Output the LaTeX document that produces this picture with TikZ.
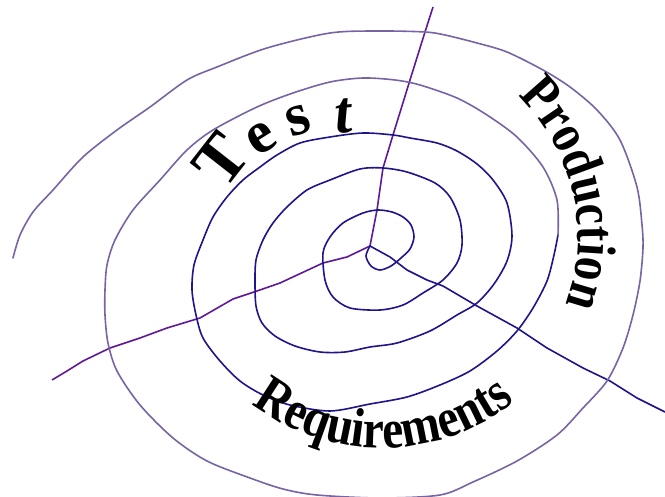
\documentclass[tikz,border=0pt]{standalone}
\usepackage{fontspec}
\setmainfont{Liberation Serif}
\newfontfamily\arcfam{Liberation Serif}[FakeStretch=0.86]
\usetikzlibrary{decorations.text,calc}
\definecolor{spiIn}{RGB}{30,20,140}
\definecolor{spiOut}{RGB}{120,100,165}
\definecolor{rayCol}{RGB}{95,25,150}
\newcommand{\arcfont}{\arcfam\bfseries\fontsize{55}{55}\selectfont}
\newcommand{\testfont}{\bfseries\fontsize{60}{60}\selectfont}
\begin{document}
\begin{tikzpicture}[x=1pt,y=-1pt,
  spiral/.style={line width=1.6pt, line join=round, line cap=round},
  ray/.style={line width=1.6pt, draw=rayCol, line join=round},
  testletter/.style={inner sep=0pt, font=\testfont},
]
\fill[white] (0,0) rectangle (665,497);
\useasboundingbox (0,0) rectangle (665,497);
\coordinate (ctr) at (370,246);

% radial lines
\draw[ray] (ctr) -- (377,210) -- (383,168) -- (393,135) -- (410,80) -- (425,32) -- (433,7);
\draw[ray] (ctr) -- (347,257) -- (323,263) -- (280,283) -- (257,291) -- (233,299) -- (200,318) -- (167,328) -- (140,338) -- (110,348) -- (83,361) -- (67,371) -- (52,380);
\draw[ray, draw=spiIn] (ctr) -- (390,257) -- (407,270) -- (427,280) -- (443,286) -- (477,306) -- (517,328) -- (547,348) -- (583,368) -- (610,381) -- (637,398) -- (665,412);

% spiral, inner part
\draw[spiral, spiIn] plot[smooth, tension=0.5] coordinates {(370,246) (366,256) (371,266) (380,270) (391,266) (401,258) (410,249) (414,237) (411,225) (403,217) (392,212) (378,210) (363,213) (343,223) (330,237) (323,253) (325,280) (333,297) (350,308) (380,310) (403,305) (423,293) (443,280) (457,263) (462,245) (460,220) (450,197) (435,183) (407,172) (383,168) (360,169) (330,180) (307,190) (287,207) (273,223) (263,240) (256,260) (255,281) (256,306) (262,323) (275,336) (295,346) (320,352) (345,352) (370,347) (397,343) (430,331) (457,315) (477,303) (494,284) (507,261) (512,236) (507,203) (493,180) (477,164) (457,151) (437,143) (410,138) (393,135) (363,133) (330,137) (300,143) (277,155) (260,167) (243,180) (227,197) (213,217) (203,240) (194,265) (192,290) (196,315) (203,338) (220,361) (240,381) (263,395) (290,405) (330,411) (370,404) (407,397) (440,385) (470,371) (497,351) (517,331) (533,308) (547,281) (554,255) (558,235)};
% spiral, outer part
\draw[spiral, spiOut] plot[smooth, tension=0.5] coordinates {(558,235) (557,200) (543,167) (517,137) (487,115) (457,98) (420,85) (395,80) (363,78) (330,82) (293,93) (257,107) (213,130) (187,150) (160,180) (133,210) (115,240) (107,265) (105,290) (105,315) (108,343) (117,371) (140,405) (173,438) (207,461) (250,478) (283,489) (317,495) (380,498) (440,495) (473,482) (517,461) (557,435) (583,408) (607,381) (623,348) (633,315) (640,281) (643,248) (642,225) (637,187) (620,140) (597,110) (570,87) (543,70) (507,52) (477,43) (445,35) (425,32) (380,31) (330,33) (267,48) (217,67) (187,80) (150,107) (117,130) (83,157) (53,190) (33,212) (20,235) (13,258)};

% Test
\node[testletter, rotate=52, font=\bfseries\fontsize{68}{68}\selectfont] (tT) at (221,160) {T};
\node[testletter, rotate=32] (te) at (261,139) {e};
\node[testletter, rotate=18] (ts) at (298,121) {s};
\node[testletter, rotate=5] (tt) at (343,116) {\itshape t};

% Production
\path[decorate, decoration={text along path, text={|\arcfont|Production}, text align=center}]
  plot[domain=-48:22, samples=60] ({382+196*cos(\x)}, {237+196*sin(\x)});
% Requirements
\path[decorate, decoration={text along path, text={|\arcfont|Requirements}, text align=center}]
  plot[domain=0:79, samples=60] ({382+213*cos(129-\x)}, {235+213*sin(129-\x)});
\end{tikzpicture}
\end{document}
